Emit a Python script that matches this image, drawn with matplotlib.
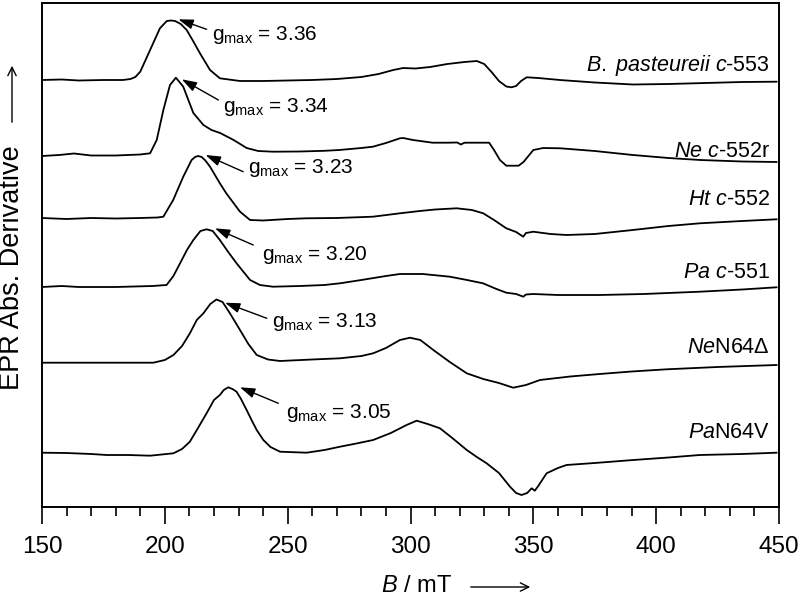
import matplotlib
matplotlib.use("Agg")
import matplotlib.pyplot as plt
from matplotlib.ticker import MultipleLocator

plt.rcParams['font.family'] = ['Liberation Sans', 'DejaVu Sans']
plt.rcParams['mathtext.fontset'] = 'custom'
plt.rcParams['mathtext.rm'] = 'Liberation Sans'
plt.rcParams['mathtext.it'] = 'Liberation Sans:italic'

# campo magnetico (mT) e sinal de cada espectro (relativo a linha de base)
b_bpast = [150, 158, 165, 175, 183, 186, 188, 190, 194, 198, 200.8, 202.5, 204.2, 206.5, 208.9, 211.5,
           214.3, 218.4, 222.4, 230.6, 240, 250, 260, 270, 280, 287, 293, 297, 302, 308, 315,
           322, 327, 330, 333, 336, 339, 341, 343, 345, 347.3, 352, 360.8, 375, 390.5, 405,
           420, 435, 449]
s_bpast = [0, 0.5, -0.5, 0, 0, 1, 3, 8.3, 30, 51.7, 59, 59.5, 59, 56, 50, 39,
           26.7, 10, 1.7, -1, -1, -0.5, 0, 1, 3, 6, 10, 12, 11.5, 13, 16,
           18, 19, 16, 8, -1, -6.5, -7.3, -6, -1, 2.7, 2, 0, -2.5, -4.5, -4,
           -3, -2, -1.7]

b_ne = [150, 157, 163, 170, 180, 190, 194, 196.7, 199.4, 202.1, 204.5, 207.5, 211.6, 215.7, 219,
        222.5, 228, 233.3, 238, 244, 255, 265, 271, 280, 284.7, 290, 295.7, 297, 301, 309,
        315, 319, 320.5, 322, 332, 334, 336.4, 339, 344, 346, 350, 354, 361, 375, 390.5,
        405, 418, 435, 449]
s_ne = [-1, 0, 1.5, -0.5, -0.5, 0.5, 1.7, 15, 45, 70, 77.3, 68.3, 42, 30, 25,
        22, 15, 7, 4, 3.3, 3.5, 4.2, 5, 7, 8.3, 12, 16.7, 17, 15, 12.3,
        12.3, 12.5, 10.5, 12.3, 12.3, 5, -5, -10.7, -10.7, -7, 5, 7, 6.7, 4, 0,
        -3, -5, -6.5, -7]

b_ht = [150, 160, 170, 180, 190, 197, 199.4, 203.4, 207.5, 210.9, 212.3, 213.6, 215, 216.5, 218.4,
        222.4, 225, 230.6, 234.7, 240, 250, 257.7, 270, 284.7, 295.7, 303.8, 310, 318.8, 325, 329.6,
        334, 339, 343, 345.9, 347, 350, 357, 363.5, 375, 390.5, 405, 417.8, 435, 449]
s_ht = [0, -1, 0, -0.5, 0, 0.5, 1.3, 18, 41.3, 58, 61, 62, 61, 57.5, 51.3,
        34.7, 24.7, 6.3, -2, -2.5, -1, -0.3, 0, 1.3, 4.7, 7, 8.5, 9.7, 8, 4.7,
        -2, -10.3, -14, -18.7, -15, -13.7, -16, -17, -16, -12, -8, -5.3, -3, -1.3]

b_pa = [150, 158, 165, 180, 195, 200.7, 203.5, 206.2, 209, 211.6, 214.5, 217, 219.5, 222.4, 225.8,
        229.2, 234.7, 238.7, 244, 255, 265, 271.3, 280, 290, 295.7, 305, 316, 323, 329.5, 335,
        339, 343, 345.9, 347, 350, 360, 377, 395, 417.8, 435, 449]
s_pa = [0, 1, 0, 0, 1, 2, 11, 23.7, 37, 47, 56, 57.7, 56, 47, 35,
        23.7, 7, 2, 0.3, 1, 2, 3.7, 7, 11, 13, 13, 10.3, 7, 3.7, -2,
        -5.7, -7, -9.7, -7.5, -7, -8, -8, -7, -4.7, -2.5, -0.3]

b_nen64 = [150, 170, 185, 195.3, 200, 203.5, 207, 210.2, 213, 215.7, 218.5, 221, 223.5, 226.5, 230.6,
           234, 237.4, 242, 246.9, 260, 271.3, 280, 284.8, 290, 295.7, 299.8, 304, 309.3, 316, 322.9,
           329.6, 336, 341.8, 347, 352.7, 365, 377, 390, 404.3, 425, 449]
s_nen64 = [0.3, 0.3, 0.3, 0.3, 3, 8, 17, 29.7, 43, 49.7, 59, 63.5, 61, 49.7, 33,
           19, 8, 3.5, 2, 3.5, 4.7, 7, 9.7, 15, 23, 25.3, 23, 13, 1, -10.3,
           -16, -20, -24.7, -22, -17, -13.5, -11, -8.5, -6.3, -4, -2]

b_pan64 = [150, 160, 170, 176.3, 185, 194, 203.5, 207, 210.2, 213.5, 217, 220, 222.4, 224, 225.8,
           227.5, 229.2, 231, 233.3, 235.5, 237.4, 240.1, 243, 246.9, 257.7, 265, 271.3, 278, 284.8, 292,
           298.4, 302.5, 307, 312, 317, 322.9, 327, 331, 336, 340.5, 343, 345.2, 347.5, 349.3, 350.6,
           352, 355.4, 360, 363.5, 375, 390.7, 405, 417.8, 435, 449]
s_pan64 = [0.3, 0, -1, -2, -2, -2.7, -0.3, 4, 11.3, 25, 39.7, 53, 58, 63, 65.7,
           64, 61.3, 54, 43, 32, 23, 13, 6, 1.3, 0.3, 3, 6.3, 9.5, 13, 20,
           28, 32.3, 29, 24.7, 15, 3, -4, -10.3, -20, -33.7, -40, -42, -40, -35.3, -37.7,
           -33, -20.3, -15, -12, -10, -7, -4.5, -2, -1, 0.3]

nomes = [r"$\mathit{B.\ pasteureii\ c}$-553", r"$\mathit{Ne\ c}$-552r", r"$\mathit{Ht\ c}$-552",
         r"$\mathit{Pa\ c}$-551", r"$\mathit{Ne}$N64Δ", r"$\mathit{Pa}$N64V"]
gmax = ["3.36", "3.34", "3.23", "3.20", "3.13", "3.05"]

campos = [b_bpast, b_ne, b_ht, b_pa, b_nen64, b_pan64]
sinais = [s_bpast, s_ne, s_ht, s_pa, s_nen64, s_pan64]

# deslocamento vertical de cada espectro
deslocamentos = [427, 352, 289, 220, 144, 54]
# seta do g_max: ponta, cauda, inicio do texto (B, y)
setas = [((205.5, 487.7), (217, 477.7), (219.2, 467.5)),
         ((206.9, 427.7), (221.8, 407), (223.5, 395.3)),
         ((216.6, 352), (231.9, 335.3), (234, 334.3)),
         ((220.4, 278.7), (236, 262), (239.4, 247)),
         ((224.5, 204.3), (241.5, 188.7), (243.5, 179.7)),
         ((230.6, 119.7), (246.2, 103.7), (249.3, 89.3))]
y_nomes = [436.3, 350.3, 302, 228.7, 154.3, 68.7]

fig = plt.figure(figsize=(8, 5.96), dpi=100)
ax = fig.add_axes([42 / 800, 89 / 596, 737 / 800, 504 / 596])

for b, s, d in zip(campos, sinais, deslocamentos):
    ax.plot(b, [v + d for v in s], color="black", lw=1.3)

for (ponta, cauda, txt), g in zip(setas, gmax):
    ax.annotate("", xy=ponta, xytext=cauda,
                arrowprops=dict(arrowstyle="-|>,head_length=0.9,head_width=0.3",
                                color="black", lw=1.0, shrinkA=0, shrinkB=0))
    ax.text(txt[0], txt[1], r"g$_{\mathrm{max}}$ = " + g, fontsize=15, va="baseline", ha="left")

for nome, y in zip(nomes, y_nomes):
    ax.text(446.3, y, nome, fontsize=15.5, ha="right", va="baseline")

ax.set_xlim(150, 450)
ax.set_ylim(0, 504)
ax.set_yticks([])
ax.xaxis.set_major_locator(MultipleLocator(50))
ax.xaxis.set_minor_locator(MultipleLocator(10))
ax.tick_params(axis="x", which="major", length=12, width=1.2, direction="out", pad=9, labelsize=17.5)
ax.tick_params(axis="x", which="minor", length=6.5, width=1.2, direction="out")
for sp in ax.spines.values():
    sp.set_linewidth(1.4)

# rotulos dos eixos com setas
fig.text(416.5 / 800, 10 / 596, r"$\mathit{B}$ / mT", fontsize=17, ha="center", va="center")
fig.add_artist(matplotlib.patches.FancyArrowPatch((468 / 800, 9 / 596), (533 / 800, 9 / 596),
               transform=fig.transFigure, arrowstyle="->,head_length=6,head_width=3",
               color="black", lw=1.0))
fig.text(12 / 800, (596 - 267.5) / 596, "EPR Abs. Derivative", fontsize=19.5,
         rotation=90, ha="center", va="center")
fig.add_artist(matplotlib.patches.FancyArrowPatch((12 / 800, (596 - 125) / 596), (12 / 800, (596 - 63) / 596),
               transform=fig.transFigure, arrowstyle="->,head_length=6,head_width=3",
               color="black", lw=1.0))

plt.savefig("out.png", dpi=100)
